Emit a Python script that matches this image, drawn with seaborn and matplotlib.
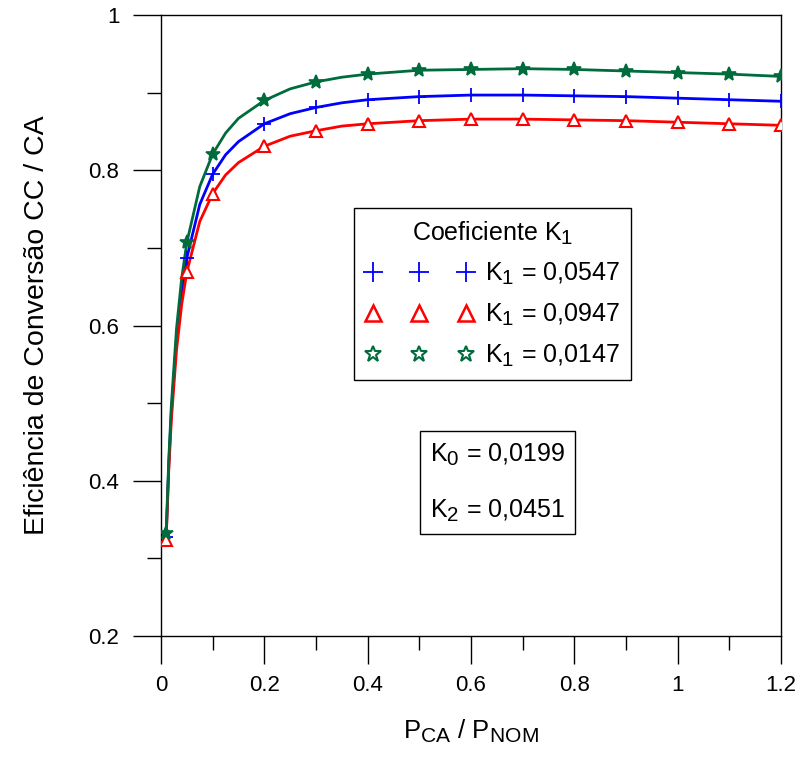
import matplotlib
matplotlib.use("Agg")
import matplotlib.pyplot as plt
from matplotlib.lines import Line2D
from matplotlib.ticker import MultipleLocator
import matplotlib._mathtext as _mt
import seaborn as sns
import pandas as pd

# larger subscripts, like the reference
_mt.SHRINK_FACTOR = 0.82

# ---- data ----
p_load = [0.01, 0.015, 0.02, 0.03, 0.04, 0.05, 0.075, 0.1, 0.125, 0.15, 0.2, 0.25,
          0.3, 0.35, 0.4, 0.5, 0.6, 0.7, 0.8, 0.9, 1.0, 1.1, 1.2]
eff_k1_0547 = [0.328, 0.420, 0.488, 0.582, 0.644, 0.687, 0.756, 0.795, 0.820, 0.837, 0.860, 0.873,
               0.881, 0.887, 0.891, 0.895, 0.897, 0.897, 0.896, 0.895, 0.893, 0.891, 0.889]
eff_k1_0947 = [0.324, 0.413, 0.478, 0.568, 0.627, 0.669, 0.734, 0.770, 0.794, 0.810, 0.831, 0.844,
               0.851, 0.857, 0.860, 0.864, 0.866, 0.866, 0.865, 0.864, 0.862, 0.860, 0.858]
eff_k1_0147 = [0.333, 0.427, 0.497, 0.596, 0.661, 0.707, 0.779, 0.821, 0.848, 0.867, 0.890, 0.905,
               0.914, 0.920, 0.924, 0.929, 0.930, 0.931, 0.930, 0.928, 0.926, 0.924, 0.921]
marker_p = [0.01, 0.05, 0.1, 0.2, 0.3, 0.4, 0.5, 0.6, 0.7, 0.8, 0.9, 1.0, 1.1, 1.2]
series_labels = ["K$_1$ = 0,0547", "K$_1$ = 0,0947", "K$_1$ = 0,0147"]
x_ticks = [0, 0.2, 0.4, 0.6, 0.8, 1.0, 1.2]
x_tick_labels = ["0", "0.2", "0.4", "0.6", "0.8", "1", "1.2"]
y_ticks = [0.2, 0.4, 0.6, 0.8, 1.0]
y_tick_labels = ["0.2", "0.4", "0.6", "0.8", "1"]

colors = ["#0000FF", "#FF0000", "#006B3C"]
markers = ["+", "^", "*"]

sns.set_theme(style="white")
plt.rcParams["font.family"] = ["Liberation Sans", "DejaVu Sans"]
plt.rcParams["mathtext.fontset"] = "custom"
plt.rcParams["mathtext.rm"] = "Liberation Sans"
plt.rcParams["mathtext.it"] = "Liberation Sans"
plt.rcParams["mathtext.default"] = "regular"
for key in ["text.color", "axes.labelcolor", "xtick.color", "ytick.color", "axes.edgecolor"]:
    plt.rcParams[key] = "black"

rows = []
for lab, vals in zip(series_labels, [eff_k1_0547, eff_k1_0947, eff_k1_0147]):
    for p, v in zip(p_load, vals):
        rows.append({"p": p, "eff": v, "serie": lab})
df = pd.DataFrame(rows)

fig = plt.figure(figsize=(8.01, 7.57), dpi=100)
ax = fig.add_axes([0.201, 0.160, 0.774, 0.820])

sns.lineplot(data=df, x="p", y="eff", hue="serie", palette=colors,
             hue_order=series_labels, linewidth=2.0, legend=False, ax=ax, sort=True)

dfm = df[df["p"].round(3).isin([round(m, 3) for m in marker_p])]
handles = []
for lab, c, m in zip(series_labels, colors, markers):
    sub = dfm[dfm["serie"] == lab]
    if m == "+":
        ax.plot(sub["p"], sub["eff"], linestyle="none", marker="+", markersize=10,
                markeredgewidth=1.3, color=c, zorder=5)
        handles.append(Line2D([], [], linestyle="none", marker="+", markersize=14,
                              markeredgewidth=1.3, color=c))
    elif m == "^":
        ax.plot(sub["p"], sub["eff"], linestyle="none", marker="^", markersize=8,
                markeredgewidth=1.5, markerfacecolor="white", markeredgecolor=c, zorder=5)
        handles.append(Line2D([], [], linestyle="none", marker="^", markersize=12,
                              markeredgewidth=1.8, markerfacecolor="white", markeredgecolor=c))
    else:
        ax.plot(sub["p"], sub["eff"], linestyle="none", marker="*", markersize=10,
                markeredgewidth=1.2, markerfacecolor=c, markeredgecolor=c, zorder=5)
        handles.append(Line2D([], [], linestyle="none", marker="*", markersize=12,
                              markeredgewidth=1.5, markerfacecolor="white", markeredgecolor=c))

ax.set_xlim(0, 1.2)
ax.set_ylim(0.2, 1.0)
ax.set_xticks(x_ticks)
ax.set_xticklabels(x_tick_labels)
ax.set_yticks(y_ticks)
ax.set_yticklabels(y_tick_labels)
ax.xaxis.set_minor_locator(MultipleLocator(0.1))
ax.yaxis.set_minor_locator(MultipleLocator(0.1))
ax.tick_params(which="major", direction="out", length=20, width=1.0, labelsize=16,
               bottom=True, left=True, top=False, right=False, color="black",
               labelcolor="black")
ax.tick_params(which="minor", direction="out", length=10, width=1.0,
               bottom=True, left=True, top=False, right=False, color="black")
ax.tick_params(axis="x", which="major", pad=8)
ax.tick_params(axis="y", which="major", pad=10)
for s in ax.spines.values():
    s.set_visible(True)
    s.set_color("black")
    s.set_linewidth(1.0)

ax.set_xlabel("P$_{CA}$ / P$_{NOM}$", fontsize=18.5, labelpad=16, color="black")
ax.set_ylabel("Eficiência de Conversão CC / CA", fontsize=20.5, labelpad=28, color="black")

leg = ax.legend(handles=handles, labels=series_labels, title="Coeficiente K$_1$",
                loc="upper left", bbox_to_anchor=(0.311, 0.689), numpoints=3,
                handlelength=4.35, handletextpad=0.45, fontsize=18, title_fontsize=18,
                frameon=True, fancybox=False, edgecolor="black", framealpha=1,
                borderpad=0.45, labelspacing=0.58, borderaxespad=0)
leg.get_frame().set_linewidth(1.0)
leg.get_title().set_color("black")
for t in leg.get_texts():
    t.set_color("black")

ax.text(0.5427, 0.247, "K$_0$ = 0,0199\n\nK$_2$ = 0,0451", transform=ax.transAxes,
        ha="center", va="center", fontsize=18, linespacing=1.15, color="black",
        bbox=dict(boxstyle="square,pad=0.42", facecolor="white", edgecolor="black", linewidth=1.0))

fig.savefig("out.png", dpi=100)
